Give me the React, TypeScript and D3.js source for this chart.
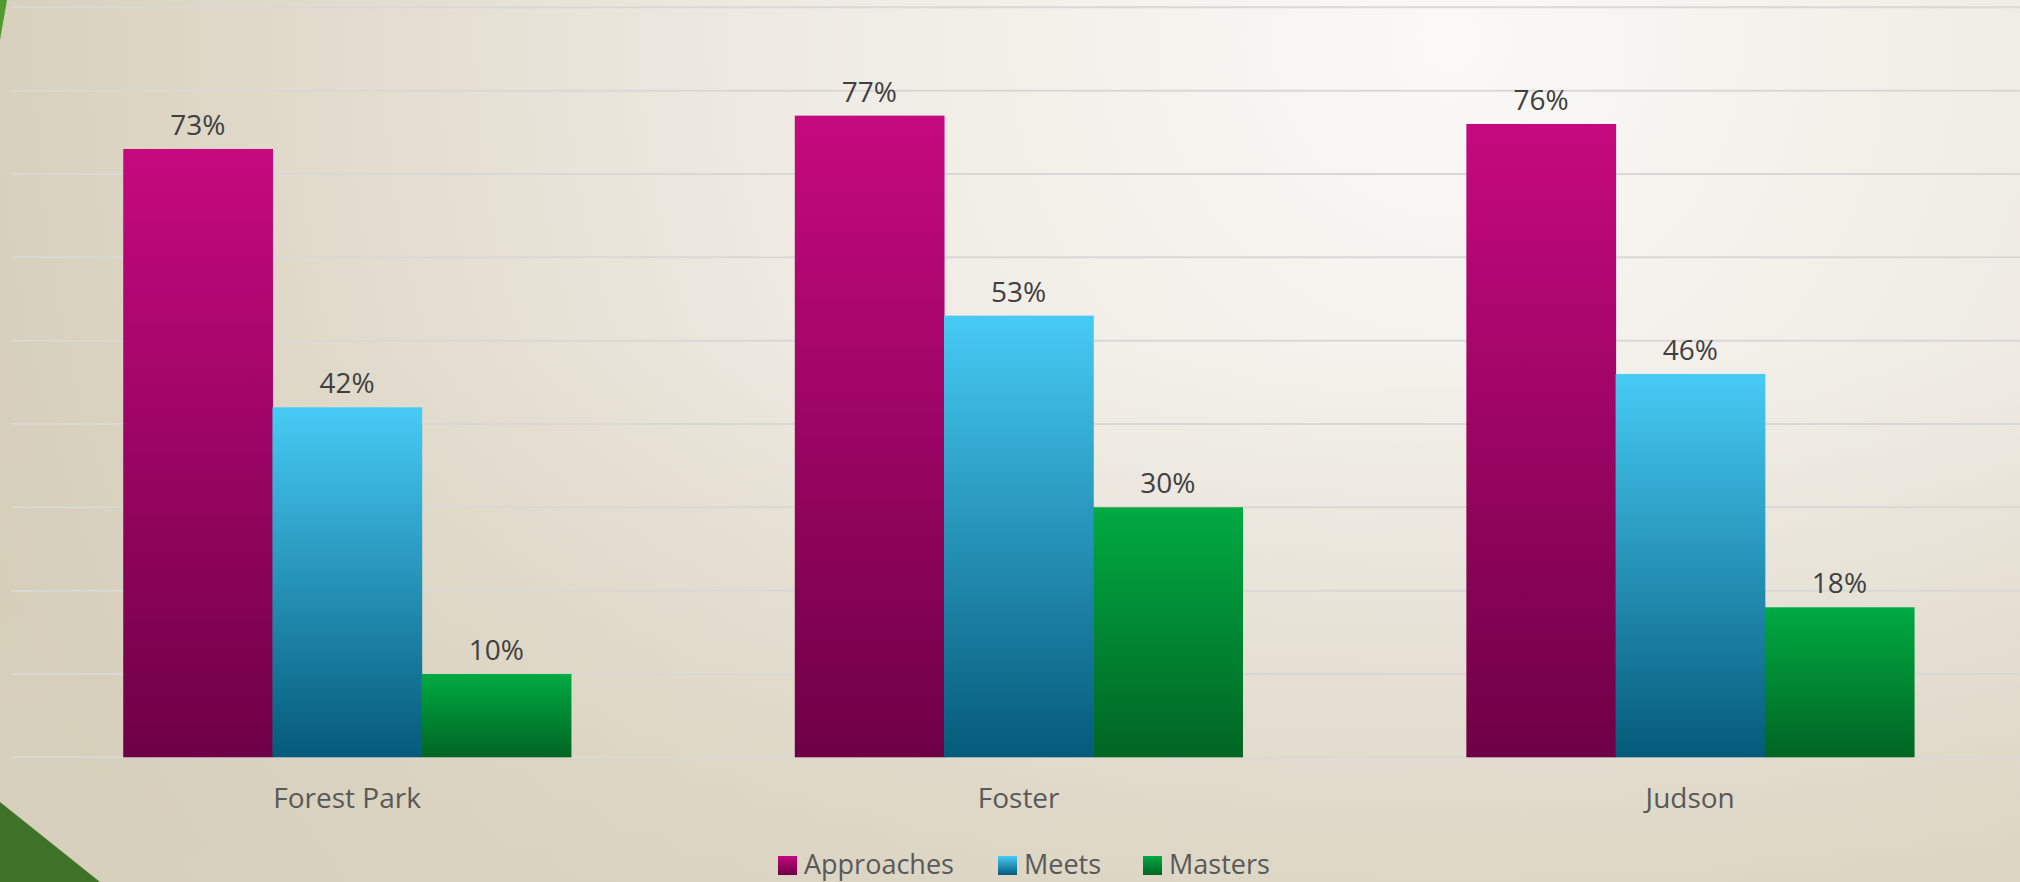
import { useEffect, useRef } from "react";
import * as d3 from "d3";

const schools = ["Forest Park", "Foster", "Judson"];
const seriesNames = ["Approaches", "Meets", "Masters"];
const approaches = [73, 77, 76];
const meets = [42, 53, 46];
const masters = [10, 30, 18];
const gridTicks = [0, 10, 20, 30, 40, 50, 60, 70, 80, 90];

const seriesColors = [
  { top: "#c6097f", bottom: "#6e0046" },
  { top: "#47cbf5", bottom: "#055a7a" },
  { top: "#00aa42", bottom: "#006523" },
];

const WIDTH = 2020;
const HEIGHT = 882;

export default function App() {
  const svgRef = useRef<SVGSVGElement>(null);

  useEffect(() => {
    if (!svgRef.current) return;
    const svg = d3.select(svgRef.current);
    svg.selectAll("*").remove();

    const values = [approaches, meets, masters];
    const rows = schools.map((name, i) => ({
      name,
      values: seriesNames.map((s, j) => ({ series: s, idx: j, value: values[j][i] })),
    }));

    const defs = svg.append("defs");

    // Background: light glow at top right, beige toward the bottom
    const bg = defs
      .append("radialGradient")
      .attr("id", "bg")
      .attr("gradientUnits", "userSpaceOnUse")
      .attr("cx", 1450)
      .attr("cy", 40)
      .attr("r", 1550);
    bg.append("stop").attr("offset", "0%").attr("stop-color", "#faf9f6");
    bg.append("stop").attr("offset", "45%").attr("stop-color", "#eeeae2");
    bg.append("stop").attr("offset", "100%").attr("stop-color", "#d5cdb8");

    const shade = defs
      .append("linearGradient")
      .attr("id", "shade")
      .attr("gradientUnits", "userSpaceOnUse")
      .attr("x1", 0)
      .attr("y1", 350)
      .attr("x2", 0)
      .attr("y2", HEIGHT);
    shade.append("stop").attr("offset", "0%").attr("stop-color", "#d8d1bd").attr("stop-opacity", 0);
    shade.append("stop").attr("offset", "100%").attr("stop-color", "#d8d1bd").attr("stop-opacity", 0.7);

    seriesColors.forEach((c, i) => {
      const lg = defs
        .append("linearGradient")
        .attr("id", `bar${i}`)
        .attr("x1", 0)
        .attr("y1", 0)
        .attr("x2", 0)
        .attr("y2", 1);
      lg.append("stop").attr("offset", "0%").attr("stop-color", c.top);
      lg.append("stop").attr("offset", "100%").attr("stop-color", c.bottom);
    });

    svg.append("rect").attr("width", WIDTH).attr("height", HEIGHT).attr("fill", "url(#bg)");
    svg.append("rect").attr("width", WIDTH).attr("height", HEIGHT).attr("fill", "url(#shade)");

    // corner decorations
    svg.append("path").attr("d", "M0,0 L7,0 L0,40 Z").attr("fill", "#4e9c2e");
    svg.append("path").attr("d", "M0,802 L100,882 L0,882 Z").attr("fill", "#3f732a");

    const x0 = d3
      .scaleBand()
      .domain(schools)
      .range([11.3, 2026])
      .paddingInner(1 / 3)
      .paddingOuter(1 / 6);

    const x1 = d3.scaleBand().domain(seriesNames).range([0, x0.bandwidth()]);

    const y = d3.scaleLinear().domain([0, 90]).range([757.3, 7.3]);

    // Gridlines
    svg
      .append("g")
      .selectAll("line")
      .data(gridTicks)
      .enter()
      .append("line")
      .attr("x1", 11.3)
      .attr("x2", WIDTH)
      .attr("y1", (d) => y(d))
      .attr("y2", (d) => y(d))
      .attr("stroke", "#d9d8d5")
      .attr("stroke-width", 2);

    const groups = svg
      .append("g")
      .selectAll("g")
      .data(rows)
      .enter()
      .append("g")
      .attr("transform", (d) => `translate(${x0(d.name)},0)`);

    groups
      .selectAll("rect")
      .data((d) => d.values)
      .enter()
      .append("rect")
      .attr("x", (d) => x1(d.series)!)
      .attr("y", (d) => y(d.value))
      .attr("width", x1.bandwidth() + 0.5)
      .attr("height", (d) => y(0) - y(d.value))
      .attr("fill", (d) => `url(#bar${d.idx})`);

    groups
      .selectAll("text")
      .data((d) => d.values)
      .enter()
      .append("text")
      .attr("x", (d) => x1(d.series)! + x1.bandwidth() / 2)
      .attr("y", (d) => y(d.value) - 14)
      .attr("text-anchor", "middle")
      .attr("font-family", "'Open Sans', sans-serif")
      .attr("font-size", 28)
      .attr("fill", "#404040")
      .text((d) => `${d.value}%`);

    // Category labels
    svg
      .append("g")
      .selectAll("text")
      .data(schools)
      .enter()
      .append("text")
      .attr("x", (d) => x0(d)! + x0.bandwidth() / 2)
      .attr("y", 808)
      .attr("text-anchor", "middle")
      .attr("font-family", "'Open Sans', sans-serif")
      .attr("font-size", 28)
      .attr("fill", "#595959")
      .text((d) => d);

    // Legend
    const legendX = [778, 998, 1143];
    const legend = svg
      .append("g")
      .selectAll("g")
      .data(seriesNames)
      .enter()
      .append("g")
      .attr("transform", (d, i) => `translate(${legendX[i]},0)`);

    legend
      .append("rect")
      .attr("x", 0)
      .attr("y", 856)
      .attr("width", 19)
      .attr("height", 19)
      .attr("fill", (d, i) => `url(#bar${i})`);

    legend
      .append("text")
      .attr("x", 26)
      .attr("y", 874)
      .attr("font-family", "'Open Sans', sans-serif")
      .attr("font-size", 27)
      .attr("fill", "#595959")
      .text((d) => d);
  }, []);

  return (
    <svg
      ref={svgRef}
      width={WIDTH}
      height={HEIGHT}
      style={{ position: "absolute", left: 0, top: 0 }}
    />
  );
}
